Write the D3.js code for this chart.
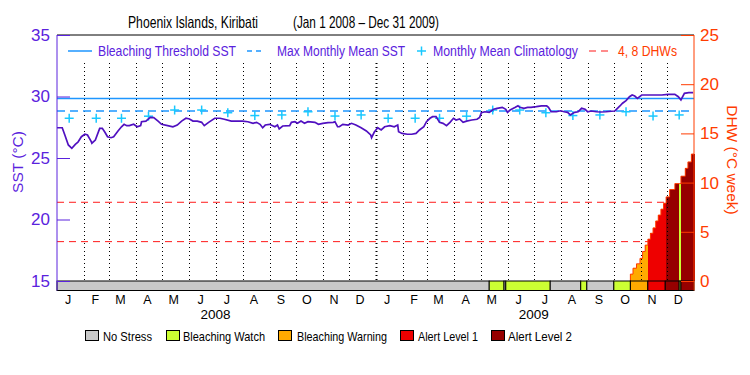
<!DOCTYPE html>
<html><head><meta charset="utf-8">
<script src="https://cdn.jsdelivr.net/npm/d3@7"></script>
<style>body{margin:0;background:#fff} text{font-family:"Liberation Sans",Arial,sans-serif}</style>
</head><body><svg id="c" width="750" height="375"></svg>
<script>
const sstDates = ["2008-01-01","2008-01-07","2008-01-10","2008-01-14","2008-01-18","2008-01-22","2008-01-25","2008-01-29","2008-02-02","2008-02-05","2008-02-09","2008-02-10","2008-02-14","2008-02-19","2008-02-22","2008-02-25","2008-02-28","2008-03-03","2008-03-06","2008-03-11","2008-03-15","2008-03-18","2008-03-21","2008-03-24","2008-03-29","2008-04-02","2008-04-06","2008-04-07","2008-04-12","2008-04-17","2008-04-21","2008-04-26","2008-04-30","2008-05-07","2008-05-13","2008-05-18","2008-05-23","2008-05-28","2008-06-01","2008-06-05","2008-06-10","2008-06-15","2008-06-18","2008-06-23","2008-06-30","2008-07-06","2008-07-11","2008-07-19","2008-07-27","2008-08-01","2008-08-07","2008-08-13","2008-08-17","2008-08-21","2008-08-24","2008-08-27","2008-09-01","2008-09-07","2008-09-10","2008-09-12","2008-09-16","2008-09-24","2008-09-26","2008-09-30","2008-10-03","2008-10-07","2008-10-11","2008-10-15","2008-10-23","2008-10-27","2008-11-01","2008-11-07","2008-11-13","2008-11-15","2008-11-18","2008-11-20","2008-11-24","2008-11-30","2008-12-04","2008-12-09","2008-12-15","2008-12-21","2008-12-26","2008-12-27","2008-12-30","2009-01-03","2009-01-07","2009-01-11","2009-01-17","2009-01-22","2009-01-26","2009-01-27","2009-01-31","2009-02-06","2009-02-11","2009-02-16","2009-02-20","2009-02-25","2009-02-28","2009-03-04","2009-03-07","2009-03-11","2009-03-15","2009-03-19","2009-03-23","2009-03-27","2009-03-31","2009-04-03","2009-04-07","2009-04-11","2009-04-15","2009-04-21","2009-04-27","2009-04-30","2009-05-02","2009-05-06","2009-05-11","2009-05-16","2009-05-20","2009-05-26","2009-05-30","2009-06-01","2009-06-04","2009-06-10","2009-06-13","2009-06-15","2009-06-20","2009-06-24","2009-06-28","2009-07-04","2009-07-10","2009-07-16","2009-07-18","2009-07-21","2009-07-27","2009-08-01","2009-08-05","2009-08-09","2009-08-12","2009-08-17","2009-08-21","2009-08-25","2009-08-29","2009-09-01","2009-09-05","2009-09-11","2009-09-16","2009-09-22","2009-09-28","2009-10-02","2009-10-04","2009-10-08","2009-10-11","2009-10-15","2009-10-19","2009-10-22","2009-10-25","2009-10-28","2009-11-02","2009-11-09","2009-11-17","2009-11-25","2009-12-02","2009-12-10","2009-12-14","2009-12-17","2009-12-21","2009-12-26","2009-12-31"];
const sstValues = [27.46,27.46,26.87,26.06,25.79,26.10,26.28,26.73,26.93,26.87,26.38,26.20,26.46,27.41,27.41,27.09,26.73,26.65,26.73,27.20,27.54,27.74,27.63,27.63,27.74,27.54,27.63,27.95,28.00,28.30,28.28,28.00,27.74,27.63,27.54,27.68,28.00,28.23,28.17,28.00,28.00,27.90,27.63,27.90,28.23,28.23,28.15,28.00,28.00,28.00,27.95,27.82,27.90,27.74,27.46,27.68,27.74,27.54,27.68,27.36,27.60,27.63,27.90,27.95,27.82,28.00,27.82,27.95,27.90,27.74,27.82,27.87,27.90,27.95,27.54,27.54,27.74,27.68,27.82,27.68,27.46,27.20,26.87,26.65,27.09,27.46,27.28,27.54,27.63,27.54,27.68,27.14,27.00,26.93,26.93,27.00,27.28,27.54,27.95,28.23,28.36,28.36,27.90,27.82,27.63,27.90,28.23,28.09,28.17,27.90,28.00,28.09,28.15,28.30,28.68,28.76,28.71,28.96,29.04,29.12,28.96,28.71,28.90,29.12,29.25,29.12,29.04,29.12,29.12,29.17,29.23,29.23,29.12,28.76,28.76,28.84,28.76,28.71,28.50,28.71,28.76,29.04,28.96,28.76,28.82,28.76,28.74,28.76,28.80,28.82,28.96,29.23,29.45,29.66,29.98,30.12,30.04,29.85,30.12,30.12,30.12,30.12,30.18,30.18,29.98,29.72,30.26,30.31,30.31];

const climMonthLabels = ["J","F","M","A","M","J","J","A","S","O","N","D"];
const climValues = [28.23,28.23,28.23,28.40,28.90,28.90,28.68,28.45,28.50,28.76,28.41,28.50];
const years = [2008, 2009];

const maxMonthlyMean = 28.83;
const bleachingThreshold = 29.83;
const dhwThresholds = [4, 8];

const dhwDates = ["2009-10-20","2009-10-23","2009-10-27","2009-10-31","2009-11-03","2009-11-06","2009-11-09","2009-11-12","2009-11-15","2009-11-18","2009-11-21","2009-11-24","2009-11-27","2009-11-30","2009-12-04","2009-12-10","2009-12-15","2009-12-17","2009-12-22","2009-12-25","2009-12-29"];
const dhwValues = [0.7,1.3,1.75,2.3,3.0,3.65,4.25,4.85,5.4,6.1,6.7,7.3,7.9,8.55,9.3,9.9,9.9,10.65,11.45,12.1,12.9];
const dhwStress = [2,2,2,2,2,2,3,3,3,3,3,3,3,4,4,4,1,4,4,4,4];

const stressStarts = ["2008-01-01","2009-05-11","2009-05-28","2009-05-30","2009-07-20","2009-08-24","2009-08-31","2009-10-01","2009-10-20","2009-11-09","2009-11-29","2009-12-15","2009-12-17"];
const stressLevels = [0,1,0,1,0,1,0,1,2,3,4,1,4];
const stressNames = ["No Stress","Bleaching Watch","Bleaching Warning","Alert Level 1","Alert Level 2"];
const stressColors = ["#c8c8c8","#ccff33","#ffaa00","#ee0000","#960000"];

const periodStart = "2008-01-01", periodEnd = "2010-01-01";

const P = d3.timeParse("%Y-%m-%d");
const svg = d3.select("#c");
svg.append("rect").attr("width",750).attr("height",375).attr("fill","#fff");

const L = 57, R = 694, T = 35, B0 = 281, B1 = 290.5;
const x = d3.scaleTime().domain([P(periodStart), P(periodEnd)]).range([L, R]);
const yS = d3.scaleLinear().domain([15, 35]).range([B0, T]);
const yD = d3.scaleLinear().domain([0, 25]).range([B0, T]);

const purple = "#5a22dd", lineP = "#5010c0", orange = "#ff3c00", blue = "#1e96ff", cyan = "#19c8ff", dred = "#ff1a1a";

// title
svg.append("text").attr("x",128).attr("y",28).attr("font-size",16.5).attr("textLength",130).attr("lengthAdjust","spacingAndGlyphs").text("Phoenix Islands, Kiribati");
svg.append("text").attr("x",293).attr("y",28).attr("font-size",16.5).attr("textLength",146).attr("lengthAdjust","spacingAndGlyphs").text("(Jan 1 2008 – Dec 31 2009)");

// DHW threshold lines
svg.append("g").selectAll("line").data(dhwThresholds).join("line")
  .attr("x1",L).attr("x2",R).attr("y1",d=>yD(d)).attr("y2",d=>yD(d))
  .attr("stroke",dred).attr("stroke-width",1).attr("stroke-dasharray","7,5");

// DHW bars
const dhw = dhwDates.map((d,i)=>({d:P(d), v:dhwValues[i], s:dhwStress[i]}));
dhw.forEach((o,i)=>{ o.e = i<dhw.length-1 ? dhw[i+1].d : P(periodEnd); });
svg.append("g").attr("shape-rendering","crispEdges").selectAll("rect").data(dhw).join("rect")
  .attr("x",d=>x(d.d)).attr("width",d=>x(d.e)-x(d.d)+0.6)
  .attr("y",d=>yD(d.v)).attr("height",d=>yD(0)-yD(d.v))
  .attr("fill",d=>stressColors[d.s]);
const stepPts = dhw.map(d=>[d.d,d.v]).concat([[P(periodEnd), dhw[dhw.length-1].v]]);
svg.append("path").attr("fill","none").attr("stroke",orange).attr("stroke-width",1)
  .attr("d", d3.line().x(d=>x(d[0])).y(d=>yD(d[1])).curve(d3.curveStepAfter)([[dhw[0].d,0]].concat(stepPts)));

// month dotted lines
const monthStarts = d3.timeMonth.range(d3.timeMonth.offset(P(periodStart),1), P(periodEnd));
svg.append("g").selectAll("line").data(monthStarts).join("line")
  .attr("x1",d=>Math.round(x(d))+0.5).attr("x2",d=>Math.round(x(d))+0.5).attr("y1",63).attr("y2",B0)
  .attr("stroke","#000").attr("stroke-width",d=>d.getMonth()===0?2:1).attr("stroke-dasharray","1,3");

// threshold & MMM
svg.append("line").attr("x1",L).attr("x2",R).attr("y1",yS(bleachingThreshold)).attr("y2",yS(bleachingThreshold)).attr("stroke",blue).attr("stroke-width",1.5);
svg.append("line").attr("x1",L).attr("x2",R).attr("y1",yS(maxMonthlyMean)).attr("y2",yS(maxMonthlyMean)).attr("stroke",blue).attr("stroke-width",1.5).attr("stroke-dasharray","8,5");

// climatology crosses
const clim = [];
years.forEach(yr=>climValues.forEach((v,m)=>clim.push({d:new Date(yr,m,15), v})));
const cg = svg.append("g").selectAll("g").data(clim).join("g").attr("transform",d=>`translate(${x(d.d)},${yS(d.v)})`);
cg.append("line").attr("x1",-4.5).attr("x2",4.5).attr("stroke",cyan).attr("stroke-width",1.5);
cg.append("line").attr("y1",-4.5).attr("y2",4.5).attr("stroke",cyan).attr("stroke-width",1.5);

// SST line
const sst = sstDates.map((d,i)=>({d:P(d), v:sstValues[i]}));
svg.append("path").attr("fill","none").attr("stroke",lineP).attr("stroke-width",1.7)
  .attr("d", d3.line().x(d=>x(d.d)).y(d=>yS(d.v))(sst));

// stress bar
const segs = stressStarts.map((s,i)=>({s:P(s), e:i<stressStarts.length-1?P(stressStarts[i+1]):P(periodEnd), l:stressLevels[i]}));
svg.append("g").selectAll("rect").data(segs).join("rect")
  .attr("x",d=>x(d.s)).attr("width",d=>x(d.e)-x(d.s)).attr("y",B0).attr("height",B1-B0)
  .attr("fill",d=>stressColors[d.l]).attr("stroke","#000").attr("stroke-width",1);

// top border
svg.append("line").attr("x1",L).attr("x2",R).attr("y1",T).attr("y2",T).attr("stroke","#000");

// left axis
const la = svg.append("g").attr("transform",`translate(${L},0)`);
la.call(d3.axisLeft(yS).tickValues(d3.range(15,36)).tickSize(-7).tickFormat(""));
la.call(d3.axisLeft(yS).tickValues([15,20,25,30,35]).tickSize(-13).tickPadding(7).tickFormat(d3.format("d")));
la.selectAll("path,line").attr("stroke",purple);
la.selectAll("path").attr("d",`M0,${T}V${B1}`);
la.selectAll("text").attr("fill",purple).attr("font-size",17).attr("font-family","Liberation Sans, Arial, sans-serif");

// right axis
const ra = svg.append("g").attr("transform",`translate(${R},0)`);
ra.call(d3.axisRight(yD).tickValues(d3.range(0,26)).tickSize(-7).tickFormat(""));
ra.call(d3.axisRight(yD).tickValues([0,5,10,15,20,25]).tickSize(-13).tickPadding(6).tickFormat(d3.format("d")));
ra.selectAll("path,line").attr("stroke",orange);
ra.selectAll("path").attr("d",`M0,${T}V${B1}`);
ra.selectAll("text").attr("fill",orange).attr("font-size",17).attr("font-family","Liberation Sans, Arial, sans-serif");

// axis titles
svg.append("text").attr("transform","translate(23,162) rotate(-90)").attr("text-anchor","middle").attr("fill",purple).attr("font-size",15.5).text("SST (°C)");
svg.append("text").attr("transform","translate(727,160) rotate(90)").attr("text-anchor","middle").attr("fill",orange).attr("font-size",15.5).text("DHW (°C week)");

// month labels
const mids = [];
years.forEach(yr=>climMonthLabels.forEach((m,i)=>mids.push({d:new Date(yr,i,15), t:m})));
svg.append("g").selectAll("text").data(mids).join("text")
  .attr("x",d=>x(d.d)-1).attr("y",304).attr("text-anchor","middle").attr("font-size",12.5).text(d=>d.t);
svg.append("g").selectAll("text").data(years).join("text")
  .attr("x",d=>x(new Date(d,6,1))).attr("y",319).attr("text-anchor","middle").attr("font-size",13.5).text(d=>d);

// top legend
const lg = svg.append("g");
lg.append("line").attr("x1",68).attr("x2",92).attr("y1",51).attr("y2",51).attr("stroke",blue).attr("stroke-width",1.5);
lg.append("text").attr("x",98).attr("y",55.5).attr("font-size",14).attr("fill",purple).attr("textLength",138).attr("lengthAdjust","spacingAndGlyphs").text("Bleaching Threshold SST");
lg.append("line").attr("x1",247).attr("x2",261).attr("y1",51).attr("y2",51).attr("stroke",blue).attr("stroke-width",1.5).attr("stroke-dasharray","5,4");
lg.append("text").attr("x",277).attr("y",55.5).attr("font-size",14).attr("fill",purple).attr("textLength",128).attr("lengthAdjust","spacingAndGlyphs").text("Max Monthly Mean SST");
lg.append("line").attr("x1",417).attr("x2",426).attr("y1",51).attr("y2",51).attr("stroke",cyan).attr("stroke-width",1.5);
lg.append("line").attr("x1",421.5).attr("x2",421.5).attr("y1",46.5).attr("y2",55.5).attr("stroke",cyan).attr("stroke-width",1.5);
lg.append("text").attr("x",433).attr("y",55.5).attr("font-size",14).attr("fill",purple).attr("textLength",145).attr("lengthAdjust","spacingAndGlyphs").text("Monthly Mean Climatology");
lg.append("line").attr("x1",589).attr("x2",608).attr("y1",51).attr("y2",51).attr("stroke",dred).attr("stroke-width",1.2).attr("stroke-dasharray","7,5");
lg.append("text").attr("x",618).attr("y",55.5).attr("font-size",14).attr("fill",orange).attr("textLength",59).attr("lengthAdjust","spacingAndGlyphs").text("4, 8 DHWs");

// bottom legend
const bx = [85,166,278,400,491], tx = [103,183,297,418,508], tl = [49,82,90,60,64];
const bl = svg.append("g").selectAll("g").data(stressNames).join("g");
bl.append("rect").attr("x",(d,i)=>bx[i]+0.5).attr("y",330.5).attr("width",13).attr("height",10).attr("fill",(d,i)=>stressColors[i]).attr("stroke","#000");
bl.append("text").attr("x",(d,i)=>tx[i]).attr("y",340.5).attr("font-size",13).attr("textLength",(d,i)=>tl[i]).attr("lengthAdjust","spacingAndGlyphs").text(d=>d);
</script></body></html>
